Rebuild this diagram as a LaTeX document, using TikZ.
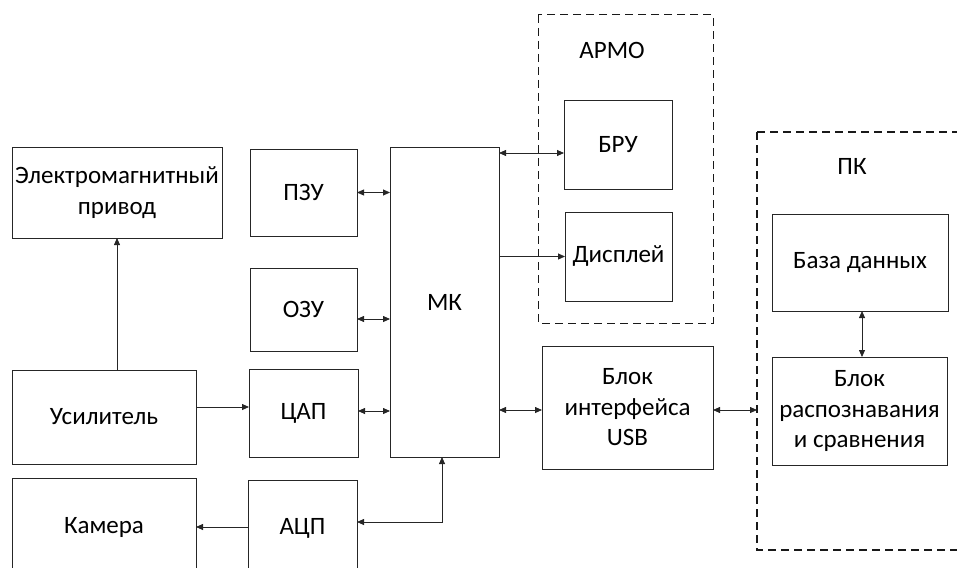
\documentclass[tikz,border=0pt]{standalone}
\usepackage{fontspec}
\setmainfont{Carlito}
\usetikzlibrary{arrows.meta}
\begin{document}
\begin{tikzpicture}[x=1pt,y=-1pt,
  box/.style={draw=black!85,line width=0.8pt,inner sep=0pt,outer sep=0pt,align=center,
    font=\fontsize{25}{30.5}\selectfont},
  grp/.style={draw=black!90,line width=1pt,dash pattern=on 8pt off 5pt},
  lbl/.style={font=\fontsize{25}{30}\selectfont,inner sep=0pt},
  arr/.style={line width=0.8pt,draw=black!85,-{Triangle[length=7pt,width=6pt]}},
  barr/.style={line width=0.8pt,draw=black!85,{Triangle[length=7pt,width=6pt]}-{Triangle[length=7pt,width=6pt]}}]
\useasboundingbox (0,0) rectangle (957,567);
\clip (0,0) rectangle (957,567);
% groups
\draw[grp] (538,15) rectangle (713,323);
\draw[grp,line width=1.3pt] (757,132) -- (757,550) -- (975,550);
\draw[grp,line width=1.3pt] (757,132) -- (975,132);
\node[lbl] (armo) at (612,50) {АРМО};
\node[lbl] (pk) at (852,166) {ПК};
% boxes
\node[box,minimum width=210,minimum height=91] (emp) at (117,192.5) {Электромагнитный\\привод};
\node[box,minimum width=107,minimum height=87] (pzu) at (303.5,192.5) {ПЗУ};
\node[box,minimum width=107,minimum height=83] (ozu) at (303.5,309.5) {ОЗУ};
\node[box,minimum width=109,minimum height=88] (cap) at (303.5,413) {ЦАП};
\node[box,minimum width=184,minimum height=94] (usil) at (104,417) {Усилитель};
\node[box,minimum width=184,minimum height=98] (kam) at (104,527) {Камера};
\node[box,minimum width=109,minimum height=96] (adc) at (302.5,528) {АЦП};
\node[box,minimum width=109,minimum height=310] (mk) at (444.5,302) {МК};
\node[box,minimum width=108,minimum height=89] (bru) at (618,144.5) {БРУ};
\node[box,minimum width=107,minimum height=89] (disp) at (618.5,256.5) {Дисплей};
\node[box,minimum width=171,minimum height=123] (usb) at (627.5,407.5) {Блок\\интерфейса\\USB};
\node[box,minimum width=176,minimum height=97] (bd) at (860,262.5) {База данных};
\node[box,minimum width=175,minimum height=108] (rasp) at (859.5,411) {Блок\\распознавания\\и сравнения};
\coordinate (pkw) at (757,410);
% connectors
\draw[arr] (usil.north -| emp.south) -- (emp.south);
\draw[arr] (usil.east |- 0,407) -- (cap.west |- 0,407);
\draw[barr] (pzu.east) -- (pzu.east -| mk.west);
\draw[barr] (ozu.east |- 0,319) -- (mk.west |- 0,319);
\draw[barr] (cap.east |- 0,411) -- (mk.west |- 0,411);
\draw[barr] (mk.east |- 0,153) -- (bru.west |- 0,153);
\draw[arr] (mk.east |- disp.west) -- (disp.west);
\draw[barr] (mk.east |- 0,410) -- (usb.west |- 0,410);
\draw[barr] (usb.east |- pkw) -- (pkw);
\draw[arr] (adc.west |- 0,527) -- (kam.east |- 0,527);
\draw[barr] (adc.east |- 0,522) -| (mk.south -| 442,0);
\draw[barr] (bd.south -| 862,0) -- (rasp.north -| 862,0);
\end{tikzpicture}
\end{document}
